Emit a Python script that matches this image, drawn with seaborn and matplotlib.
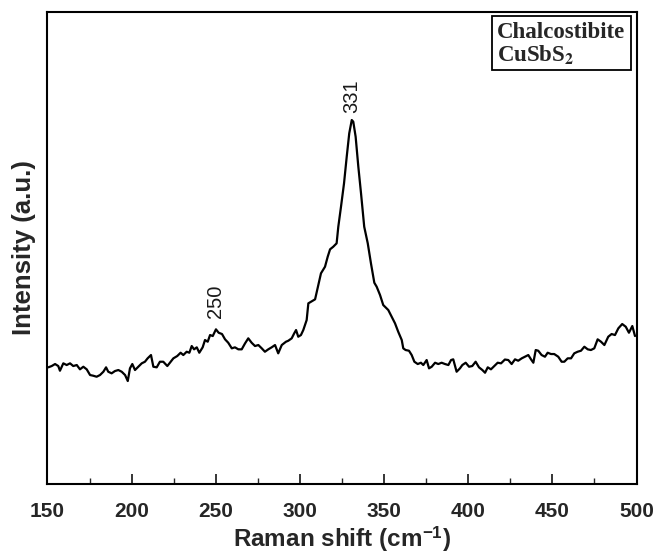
import matplotlib
matplotlib.use("Agg")
import matplotlib.pyplot as plt
from matplotlib.patches import Rectangle
import seaborn as sns
import pandas as pd

# Raman shift (cm-1) and intensity (a.u.)
shift = [150.5, 152.5, 154.5, 156.4, 157.4, 159.4, 161.4, 163.4, 165.3, 167.4, 169.3, 171.3,
         173.3, 175.3, 177.2, 179.2, 181.2, 183.2, 184.8, 186.1, 188.1, 190.1, 192.1, 194.1,
         196.1, 197.7, 199.0, 200.4, 202.0, 204.0, 206.0, 207.9, 209.5, 211.5, 212.9, 214.9,
         216.8, 218.8, 221.2, 223.2, 224.8, 227.1, 229.1, 230.7, 232.7, 234.3, 235.7, 237.1,
         238.7, 240.2, 242.2, 243.6, 245.2, 246.6, 248.2, 250.1, 251.7, 253.7, 255.5, 257.4,
         259.5, 261.4, 263.4, 265.4, 267.4, 269.3, 271.3, 273.3, 275.3, 277.3, 279.2, 281.2,
         283.2, 285.2, 287.1, 289.2, 291.7, 293.1, 295.1, 296.6, 297.7, 299.0, 300.6, 302.0,
         304.0, 305.0, 306.6, 309.0, 310.9, 312.5, 314.9, 316.5, 317.9, 319.8, 321.8, 322.8,
         324.4, 326.2, 327.8, 329.3, 330.8, 331.7, 333.1, 334.7, 336.3, 338.2, 340.3, 342.2,
         344.2, 345.6, 347.6, 349.5, 352.5, 354.5, 356.5, 358.4, 360.5, 361.4, 362.8, 364.8,
         366.4, 368.0, 370.0, 371.9, 373.3, 375.3, 376.7, 378.3, 380.3, 382.2, 384.2, 386.2,
         388.2, 389.8, 391.1, 393.1, 395.1, 396.5, 398.5, 400.5, 402.4, 404.4, 406.4, 408.4,
         410.0, 411.6, 413.5, 415.5, 417.5, 419.5, 421.8, 423.8, 425.8, 427.8, 429.7, 431.8,
         433.7, 435.7, 437.3, 438.7, 440.1, 441.6, 443.6, 445.6, 447.2, 449.2, 451.1, 453.5,
         455.5, 457.1, 459.1, 461.1, 463.0, 465.0, 467.0, 469.0, 471.0, 472.9, 474.9, 476.9,
         478.9, 480.9, 483.2, 485.2, 487.2, 489.2, 491.5, 493.6, 495.5, 497.5, 499.1]
intensity = [116.7, 118.0, 120.0, 118.0, 113.3, 120.7, 119.0, 120.7, 118.0, 119.0, 114.7, 117.3,
             114.7, 109.0, 108.3, 107.3, 109.0, 112.3, 116.7, 112.3, 110.7, 113.0, 114.0, 112.3,
             109.0, 103.0, 115.7, 120.0, 114.0, 117.3, 120.7, 122.3, 125.7, 129.0, 117.3, 116.7,
             122.3, 122.3, 118.0, 122.3, 125.7, 128.0, 131.3, 129.0, 132.3, 131.3, 138.0, 134.7,
             136.7, 131.3, 136.7, 144.0, 142.3, 149.0, 148.0, 154.7, 151.3, 150.0, 144.7, 141.3,
             135.7, 136.7, 134.7, 134.7, 140.7, 145.7, 141.3, 138.0, 139.0, 135.7, 132.3, 134.7,
             136.7, 139.0, 130.7, 139.0, 142.3, 143.3, 145.7, 150.7, 154.0, 147.3, 149.0, 154.0,
             164.0, 180.7, 182.3, 184.7, 199.0, 210.7, 217.3, 227.3, 234.7, 237.3, 240.7, 257.3,
             277.3, 300.7, 327.3, 350.7, 364.0, 362.3, 347.3, 317.3, 290.7, 257.3, 240.7, 220.7,
             201.3, 197.3, 189.0, 179.0, 174.0, 167.3, 160.7, 152.3, 144.0, 135.7, 134.0, 133.3,
             129.0, 122.3, 120.0, 121.3, 119.0, 124.0, 115.7, 117.3, 121.3, 120.0, 121.3, 120.0,
             119.0, 124.0, 124.7, 112.3, 115.7, 119.0, 121.3, 117.3, 118.0, 122.3, 116.7, 114.0,
             111.3, 116.7, 114.7, 118.0, 121.3, 120.7, 124.5, 124.0, 120.0, 124.7, 123.3, 125.7,
             127.3, 129.0, 124.7, 121.3, 134.0, 133.3, 129.0, 127.3, 131.3, 130.0, 130.0, 127.3,
             122.3, 122.3, 125.7, 125.7, 130.7, 132.3, 133.3, 137.3, 134.7, 134.0, 135.7, 144.7,
             142.3, 139.0, 147.3, 150.0, 149.0, 155.7, 160.0, 157.3, 151.3, 158.0, 148.0]

peak_pos = [250, 331]
peak_top = [166, 371]
peak_labels = ["250", "331"]

x_ticks = [150, 200, 250, 300, 350, 400, 450, 500]
x_minor = [175, 225, 275, 325, 375, 425, 475]

sns.set_style("white")
plt.rcParams["font.family"] = ["Liberation Sans", "DejaVu Sans"]
plt.rcParams["mathtext.fontset"] = "stix"

df = pd.DataFrame({"shift": shift, "intensity": intensity})

fig = plt.figure(figsize=(6.56, 5.57), dpi=100)
ax = fig.add_axes([0.0724, 0.131, 0.8979, 0.8474])

sns.lineplot(data=df, x="shift", y="intensity", color="black", linewidth=1.6,
             estimator=None, sort=True, ax=ax)

ax.set_xlim(150, 500)
ax.set_ylim(0, 472)
ax.set_xticks(x_ticks)
ax.set_xticks(x_minor, minor=True)
ax.set_xticklabels([str(t) for t in x_ticks], fontsize=15, fontweight="bold")
ax.set_yticks([])
ax.tick_params(axis="x", which="major", direction="in", length=7, width=1.3, pad=13,
               bottom=True, top=False)
ax.tick_params(axis="x", which="minor", direction="in", length=4, width=1.0,
               bottom=True, top=False)
for s in ax.spines.values():
    s.set_linewidth(1.5)
    s.set_color("black")

ax.set_xlabel("Raman shift (cm$^{\\mathregular{-1}}$)", fontsize=17.5, fontweight="bold", labelpad=2)
ax.set_ylabel("Intensity (a.u.)", fontsize=18.5, fontweight="bold", labelpad=8)

for xp, yp, lab in zip(peak_pos, peak_top, peak_labels):
    ax.text(xp, yp, lab, rotation=90, ha="center", va="bottom", fontsize=14.5, color="#1a1a1a")

ax.add_patch(Rectangle((0.7547, 0.877), 0.236, 0.115, transform=ax.transAxes,
                       fc="white", ec="black", lw=1.3, zorder=5))
ax.text(0.763, 0.978, "Chalcostibite\nCuSbS$_\\mathbf{2}$", transform=ax.transAxes,
        ha="left", va="top", multialignment="left", linespacing=1.0,
        fontsize=16.5, fontweight="bold", family="Liberation Serif", zorder=6)

fig.savefig("out.png", dpi=100)
